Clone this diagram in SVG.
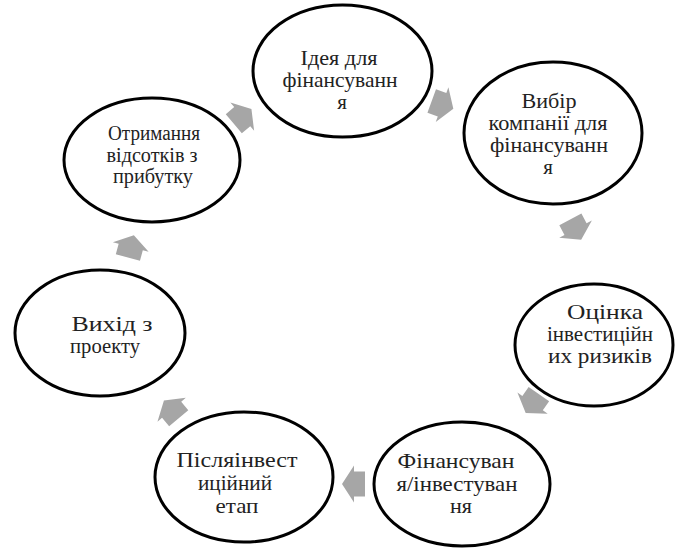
<svg xmlns="http://www.w3.org/2000/svg" width="676" height="549" viewBox="0 0 676 549">
<defs>
<style>
.n ellipse{fill:#fff;stroke:#000;stroke-width:3}
.n text{font-family:"Liberation Serif","Times New Roman",serif;font-size:21px;fill:#222;text-anchor:middle}
.a{fill:#a6a6a6}
</style>
<path id="arr" d="M-12,-12.5 L-1,-12.5 L-1,-18.5 L11,0 L-1,18.5 L-1,12.5 L-12,12.5 Z"/>
</defs>
<rect width="676" height="549" fill="#fff"/>
<g id="connectors" class="a">
<use href="#arr" transform="translate(443,105) rotate(20)"/>
<use href="#arr" transform="translate(576,230) rotate(62)"/>
<use href="#arr" transform="translate(532,404) rotate(125)"/>
<use href="#arr" transform="translate(353,484) rotate(180)"/>
<use href="#arr" transform="translate(171,409) rotate(230)"/>
<use href="#arr" transform="translate(131,246) rotate(-75)"/>
<use href="#arr" transform="translate(243,116) rotate(-40)"/>
</g>
<g id="n1" class="n">
<ellipse cx="342.5" cy="71" rx="89.5" ry="66"/>
<text x="339" y="65" textLength="77" lengthAdjust="spacingAndGlyphs">Ідея для</text>
<text x="340" y="87" textLength="115" lengthAdjust="spacingAndGlyphs">фінансуванн</text>
<text x="342" y="109">я</text>
</g>
<g id="n2" class="n">
<ellipse cx="553" cy="133" rx="89" ry="71"/>
<text x="549" y="108" textLength="55" lengthAdjust="spacingAndGlyphs">Вибір</text>
<text x="548" y="130" textLength="119" lengthAdjust="spacingAndGlyphs">компанії для</text>
<text x="549" y="152" textLength="118" lengthAdjust="spacingAndGlyphs">фінансуванн</text>
<text x="548" y="174">я</text>
</g>
<g id="n3" class="n">
<ellipse cx="594" cy="345" rx="79" ry="61"/>
<text x="605" y="319" textLength="76" lengthAdjust="spacingAndGlyphs">Оцінка</text>
<text x="600" y="341" textLength="106" lengthAdjust="spacingAndGlyphs">інвестиційн</text>
<text x="600" y="363" textLength="104" lengthAdjust="spacingAndGlyphs">их ризиків</text>
</g>
<g id="n4" class="n">
<ellipse cx="462" cy="484" rx="88" ry="62"/>
<text x="456" y="468" textLength="117" lengthAdjust="spacingAndGlyphs">Фінансуван</text>
<text x="457" y="491" textLength="121" lengthAdjust="spacingAndGlyphs">я/інвестуван</text>
<text x="461" y="513" textLength="22" lengthAdjust="spacingAndGlyphs">ня</text>
</g>
<g id="n5" class="n">
<ellipse cx="244" cy="477" rx="89" ry="65"/>
<text x="237" y="467" textLength="121" lengthAdjust="spacingAndGlyphs" style="font-size:22px">Післяінвест</text>
<text x="235" y="490" textLength="74" lengthAdjust="spacingAndGlyphs" style="font-size:22px">иційний</text>
<text x="237" y="513" textLength="43" lengthAdjust="spacingAndGlyphs" style="font-size:22px">етап</text>
</g>
<g id="n6" class="n">
<ellipse cx="100" cy="333" rx="85" ry="63"/>
<text x="112" y="331" textLength="81" lengthAdjust="spacingAndGlyphs">Вихід з</text>
<text x="105" y="353" textLength="70" lengthAdjust="spacingAndGlyphs">проекту</text>
</g>
<g id="n7" class="n">
<ellipse cx="152" cy="160" rx="88" ry="62"/>
<text x="154" y="140" textLength="92" lengthAdjust="spacingAndGlyphs" style="font-size:20px">Отримання</text>
<text x="152" y="162" textLength="91" lengthAdjust="spacingAndGlyphs" style="font-size:20px">відсотків з</text>
<text x="153" y="183" textLength="80" lengthAdjust="spacingAndGlyphs" style="font-size:20px">прибутку</text>
</g>
</svg>
